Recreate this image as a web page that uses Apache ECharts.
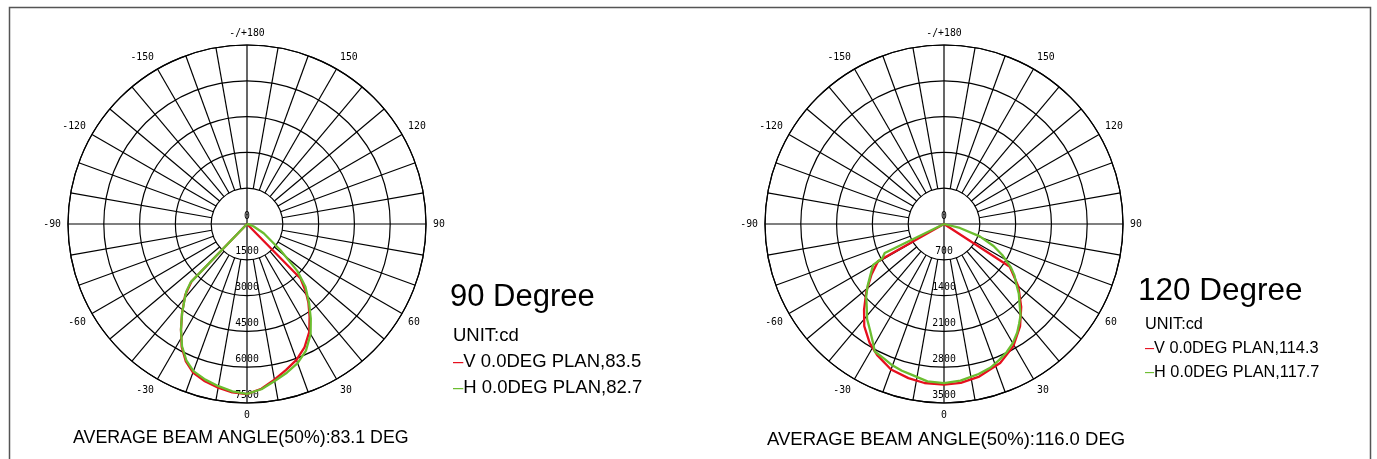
<!DOCTYPE html>
<html><head><meta charset="utf-8">
<script src="https://cdn.jsdelivr.net/npm/echarts@6/dist/echarts.min.js"></script>
<style>html,body{margin:0;padding:0;background:#fff}#c{width:1377px;height:459px}</style>
</head><body><div id="c"></div>
<script>
// ---------- Chart 1: 90 Degree ----------
const c1Title = '90 Degree';
const c1Unit = 'UNIT:cd';
const c1LegendV = 'V 0.0DEG PLAN,83.5';
const c1LegendH = 'H 0.0DEG PLAN,82.7';
const c1Beam = 'AVERAGE BEAM ANGLE(50%):83.1 DEG';
const c1RadiusMax = 7500;
const c1RadiusStep = 1500;
const c1VAngles = [-90,-47,-44,-41,-36,-32,-28,-24,-20,-15,-10,-5,0,5,10,15,20,25,30,34,38,41,44.5,46,90];
const c1VValues = [0,0,3350,3950,4630,5220,5830,6300,6620,6820,6960,7080,7130,6930,6620,6330,6060,5700,5220,4690,4180,3750,3200,0,0];
const c1HAngles = [-90,-46,-44,-42,-40,-36,-32,-28,-24,-20,-15,-10,-5,0,5,10,15,20,25,30,34,38,43,47,52,61,70,80,90];
const c1HValues = [0,0,3400,3800,4050,4630,5220,5800,6250,6560,6750,6900,7040,7120,6950,6680,6450,6200,5850,5330,4780,4230,3590,2880,1770,800,300,80,0];

// ---------- Chart 2: 120 Degree ----------
const c2Title = '120 Degree';
const c2Unit = 'UNIT:cd';
const c2LegendV = 'V 0.0DEG PLAN,114.3';
const c2LegendH = 'H 0.0DEG PLAN,117.7';
const c2Beam = 'AVERAGE BEAM ANGLE(50%):116.0 DEG';
const c2RadiusMax = 3500;
const c2RadiusStep = 700;
const c2VAngles = [-90,-64,-60.5,-55,-49,-43,-38,-32,-27,-20,-13,-7,0,6,13,22,29.5,36.6,43,50,57,58,90];
const c2VValues = [0,0,1484,1733,2012,2292,2533,2743,2878,3029,3093,3132,3142,3125,3062,2931,2750,2494,2214,1897,1534,0,0];
const c2HAngles = [-90,-66,-64,-61,-60,-55,-51,-47,-43,-39,-35,-31,-28.5,-24,-20.5,-16,-12,-6,0,6,13,18,22,26,30,34,37,40,43,47,50,54,57,62,66,71,76,90];
const c2HValues = [0,0,1290,1380,1600,1760,1922,2080,2215,2390,2526,2700,2836,2880,2938,2985,3016,3094,3110,3080,3010,2950,2870,2790,2690,2560,2440,2330,2170,2000,1850,1700,1560,1290,1060,740,320,0];

// ---------- shared ----------
const angleTickStep = 30;   // labelled angle ticks
const spokeStep = 10;       // radial grid lines
const colorV = '#e60f1e';
const colorH = '#6bbd2f';
const gridColor = '#000';
const FONT = 'Liberation Sans, Arial, sans-serif';

function axAngle(a){ return ((a % 360) + 360) % 360; }
function toPolar(angs, vals){ return vals.map((v,i)=>[v, axAngle(angs[i])]); }
function angleLabel(v){
  if (v === 180) return '-/+180';
  if (v > 180) return String(v - 360);
  return String(v);
}

function polarSet(idx, center, rMax, rStep){
  return {
    polar: { center: center, radius: 179 },
    angleAxis: {
      polarIndex: idx, type: 'value', min: 0, max: 360, interval: angleTickStep,
      startAngle: 270, clockwise: false,
      axisLine: { show: true, lineStyle: { color: gridColor, width: 1.2 } },
      axisTick: { show: false },
      splitLine: { show: false },
      axisLabel: { show: true, margin: 7, color: '#000', fontSize: 9.8, fontFamily: 'DejaVu Sans Mono', formatter: angleLabel }
    },
    radiusAxis: {
      polarIndex: idx, type: 'value', min: 0, max: rMax, interval: rStep,
      axisLine: { show: false }, axisTick: { show: false },
      splitLine: { show: true, lineStyle: { color: gridColor, width: 1.2 } },
      axisLabel: { show: true, margin: 0, align: 'center', verticalAlign: 'bottom', padding: [0,0,3,0],
                   color: '#000', fontSize: 9.8, fontFamily: 'DejaVu Sans Mono', formatter: v => String(v) }
    }
  };
}

function spokeSeries(idx, rMin, rMax){
  const out = [];
  for (let a = 0; a < 360; a += spokeStep){
    const inner = (a % 90 === 0) ? 0 : rMin;
    out.push({
      type: 'line', coordinateSystem: 'polar', polarIndex: idx, silent: true,
      symbol: 'none', animation: false, z: 1,
      lineStyle: { color: gridColor, width: 1.2 },
      data: [[inner, a], [rMax, a]]
    });
  }
  return out;
}

function curve(idx, data, color, z){
  return { type: 'line', coordinateSystem: 'polar', polarIndex: idx, symbol: 'none', animation: false,
    z: z, lineStyle: { color: color, width: 2.3 }, data: data };
}

const p1 = polarSet(0, [247, 224], c1RadiusMax, c1RadiusStep);
const p2 = polarSet(1, [944, 224], c2RadiusMax, c2RadiusStep);

function texts(o){
  const base = { fontFamily: FONT, fill: '#000', align: 'left', verticalAlign: 'middle' };
  const fs = o.fs;
  return [
    { type: 'text', x: o.titleX, y: o.titleY, style: Object.assign({}, base, { text: o.title, fontSize: o.titleFs }) },
    { type: 'text', x: o.unitX, y: o.unitY, style: Object.assign({}, base, { text: o.unit, fontSize: fs }) },
    { type: 'text', x: o.unitX, y: o.unitY + o.gap, style: Object.assign({}, base, { text: '{v|–}' + o.legV, fontSize: fs,
        rich: { v: { fill: colorV, fontSize: fs, fontFamily: FONT } } }) },
    { type: 'text', x: o.unitX, y: o.unitY + 2*o.gap, style: Object.assign({}, base, { text: '{h|–}' + o.legH, fontSize: fs,
        rich: { h: { fill: colorH, fontSize: fs, fontFamily: FONT } } }) },
    { type: 'text', x: o.beamX, y: o.beamY, style: Object.assign({}, base, { text: o.beam, fontSize: o.beamFs }) }
  ];
}

const option = {
  backgroundColor: '#fff',
  animation: false,
  polar: [p1.polar, p2.polar],
  angleAxis: [p1.angleAxis, p2.angleAxis],
  radiusAxis: [p1.radiusAxis, p2.radiusAxis],
  series: [].concat(
    spokeSeries(0, c1RadiusStep, c1RadiusMax),
    spokeSeries(1, c2RadiusStep, c2RadiusMax),
    [
      curve(0, toPolar(c1VAngles, c1VValues), colorV, 3),
      curve(0, toPolar(c1HAngles, c1HValues), colorH, 4),
      curve(1, toPolar(c2VAngles, c2VValues), colorV, 3),
      curve(1, toPolar(c2HAngles, c2HValues), colorH, 4)
    ]
  ),
  graphic: [].concat(
    [{ type: 'polyline', silent: true, shape: { points: [[9.5, 459], [9.5, 7.5], [1370.5, 7.5], [1370.5, 459]] },
       style: { stroke: '#555', lineWidth: 1.5, fill: null } }],
    texts({ titleX: 450, titleY: 297, title: c1Title, titleFs: 31, fs: 18.5, unitX: 453, unitY: 336, gap: 26,
            unit: c1Unit, legV: c1LegendV, legH: c1LegendH, beamX: 73, beamY: 438, beam: c1Beam, beamFs: 17.8 }),
    texts({ titleX: 1138, titleY: 291, title: c2Title, titleFs: 31.5, fs: 16.3, unitX: 1145, unitY: 324.5, gap: 24,
            unit: c2Unit, legV: c2LegendV, legH: c2LegendH, beamX: 767, beamY: 440, beam: c2Beam, beamFs: 18.5 })
  )
};

const chart = echarts.init(document.getElementById('c'), null, { renderer: 'canvas' });
chart.setOption(option);
</script>
</body></html>
